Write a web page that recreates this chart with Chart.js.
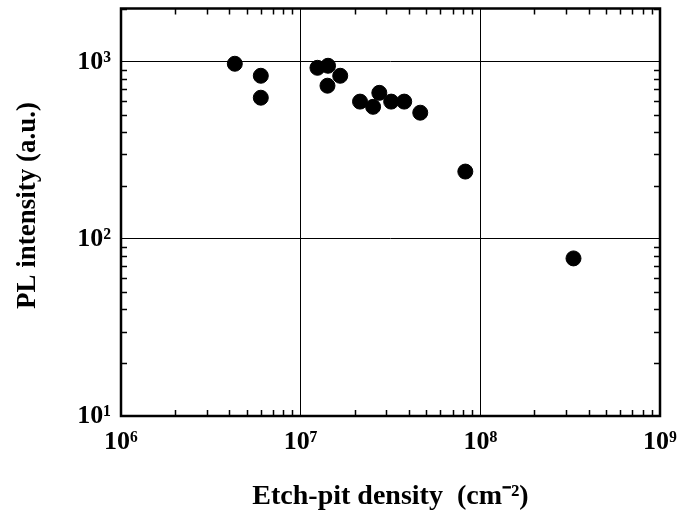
<!DOCTYPE html>
<html>
<head>
<meta charset="utf-8">
<script src="https://cdn.jsdelivr.net/npm/chart.js@4.4.1/dist/chart.umd.min.js"></script>
<style>
  html, body { margin: 0; padding: 0; background: #fff; }
  #wrap { width: 681px; height: 518px; }
</style>
</head>
<body>
<div id="wrap"><canvas id="chart"></canvas></div>
<script>
// data
const etchPitDensity = [4.3e6, 6.0e6, 6.0e6, 1.24e7, 1.42e7, 1.41e7, 1.66e7, 2.14e7, 2.53e7, 2.74e7, 3.19e7, 3.77e7, 4.63e7, 8.25e7, 3.30e8];
const plIntensity = [975, 834, 627, 925, 950, 733, 834, 596, 557, 668, 596, 596, 516, 240, 77.6];
const xDecades = [1e6, 1e7, 1e8, 1e9];
const yDecades = [1e1, 1e2, 1e3];
const xRange = [1e6, 1e9];
const yRange = [10, 2000];

const SUP = { '0': '⁰', '1': '¹', '2': '²', '3': '³', '4': '⁴', '5': '⁵', '6': '⁶', '7': '⁷', '8': '⁸', '9': '⁹' };
function decadeLabel(v) {
    const e = Math.round(Math.log10(v));
    return '10' + String(e).split('').map(c => SUP[c]).join('');
}
function isDecade(v, list) {
    return list.some(d => Math.abs(v / d - 1) < 1e-6);
}

const serif = "'Liberation Serif', 'Times New Roman', serif";

// frame + inward ticks on all four sides
const framePlugin = {
    id: 'frame',
    afterDraw(chart) {
        const ctx = chart.ctx;
        const a = chart.chartArea;
        const xs = chart.scales.x, ys = chart.scales.y;
        ctx.save();
        ctx.strokeStyle = '#000';
        ctx.lineWidth = 1.5;
        // x ticks
        for (let e = 6; e < 9; e++) {
            for (let m = 2; m <= 9; m++) {
                const px = Math.round(xs.getPixelForValue(m * Math.pow(10, e))) + 0.5;
                ctx.beginPath();
                ctx.moveTo(px, a.bottom); ctx.lineTo(px, a.bottom - 6);
                ctx.moveTo(px, a.top); ctx.lineTo(px, a.top + 6);
                ctx.stroke();
            }
        }
        // y ticks
        for (let e = 1; e < 4; e++) {
            for (let m = 2; m <= 9; m++) {
                const v = m * Math.pow(10, e);
                if (v > yRange[1]) break;
                const py = Math.round(ys.getPixelForValue(v)) + 0.5;
                ctx.beginPath();
                ctx.moveTo(a.left, py); ctx.lineTo(a.left + 6, py);
                ctx.moveTo(a.right, py); ctx.lineTo(a.right - 6, py);
                ctx.stroke();
            }
        }
        ctx.lineWidth = 2.5;
        ctx.strokeRect(a.left, a.top, a.right - a.left, a.bottom - a.top);
        ctx.restore();
    }
};

new Chart(document.getElementById('chart'), {
    type: 'scatter',
    data: {
        datasets: [{
            data: etchPitDensity.map((x, i) => ({ x: x, y: plIntensity[i] })),
            backgroundColor: '#000',
            borderColor: '#000',
            pointRadius: 7.5,
            pointHoverRadius: 7.5
        }]
    },
    options: {
        responsive: true,
        maintainAspectRatio: false,
        animation: false,
        events: [],
        layout: { padding: { left: 0, top: 8, right: 21, bottom: 0 } },
        plugins: { legend: { display: false }, tooltip: { enabled: false } },
        scales: {
            x: {
                type: 'logarithmic',
                min: xRange[0],
                max: xRange[1],
                afterFit(scale) {
                    scale.height = 102;
                    scale.paddingLeft = 0;
                    scale.paddingRight = 0;
                },
                border: { display: false },
                grid: {
                    drawTicks: false,
                    color: c => (c.tick && isDecade(c.tick.value, xDecades)) ? '#000' : 'rgba(0,0,0,0)',
                    lineWidth: 1
                },
                ticks: {
                    autoSkip: false,
                    maxRotation: 0,
                    padding: 11,
                    color: '#000',
                    font: { family: serif, size: 26, weight: 'bold' },
                    callback: v => isDecade(v, xDecades) ? decadeLabel(v) : ''
                },
                title: {
                    display: true,
                    text: 'Etch-pit density  (cm⁻²)',
                    color: '#000',
                    font: { family: serif, size: 28, weight: 'bold' },
                    padding: { top: 0, bottom: 4 }
                }
            },
            y: {
                type: 'logarithmic',
                min: yRange[0],
                max: yRange[1],
                afterFit(scale) {
                    scale.width = 121;
                    scale.paddingTop = 0;
                    scale.paddingBottom = 0;
                },
                border: { display: false },
                grid: {
                    drawTicks: false,
                    color: c => (c.tick && isDecade(c.tick.value, yDecades)) ? '#000' : 'rgba(0,0,0,0)',
                    lineWidth: 1
                },
                ticks: {
                    autoSkip: false,
                    padding: 10,
                    color: '#000',
                    font: { family: serif, size: 26, weight: 'bold' },
                    callback: v => isDecade(v, yDecades) ? decadeLabel(v) : ''
                },
                title: {
                    display: true,
                    text: '  PL intensity (a.u.)',
                    color: '#000',
                    font: { family: serif, size: 27, weight: 'bold' },
                    padding: { top: 12, bottom: 0 }
                }
            }
        }
    },
    plugins: [framePlugin]
});
</script>
</body>
</html>
